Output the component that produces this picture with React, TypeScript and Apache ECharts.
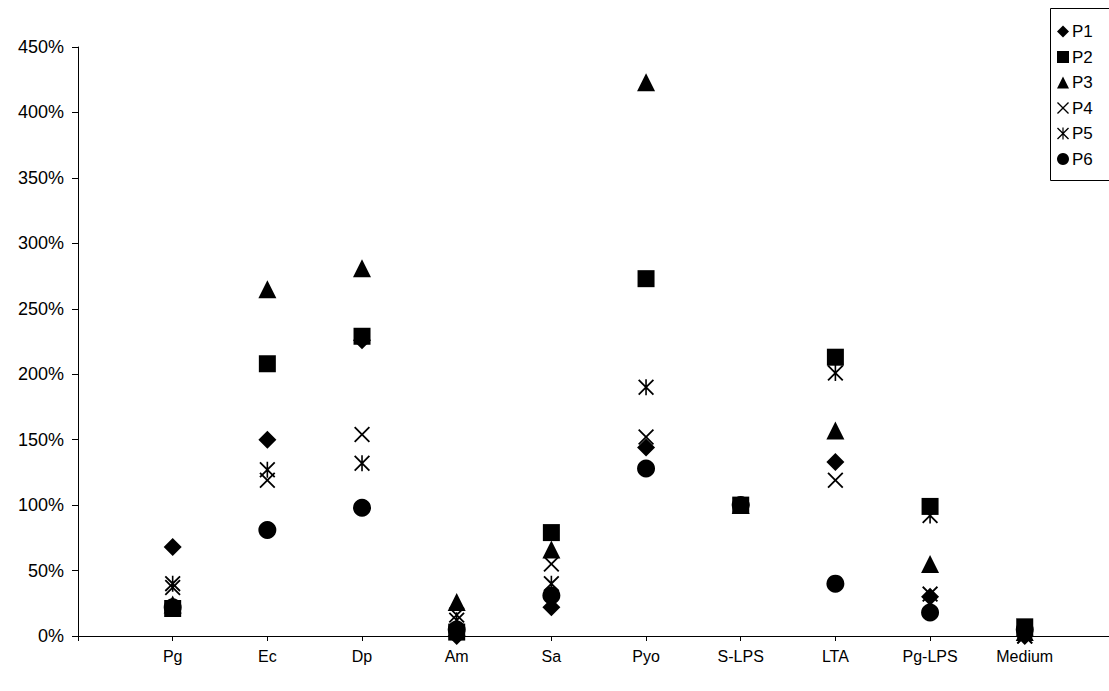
import React, { useEffect, useRef } from 'react';
import * as echarts from 'echarts';

const categories = ['Pg', 'Ec', 'Dp', 'Am', 'Sa', 'Pyo', 'S-LPS', 'LTA', 'Pg-LPS', 'Medium'];
const seriesNames = ['P1', 'P2', 'P3', 'P4', 'P5', 'P6'];
const p1 = [68, 150, 226, 0, 22, 144, 100, 133, 30, 0];
const p2 = [21, 208, 229, 3, 79, 273, 100, 213, 99, 7];
const p3 = [24, 265, 281, 26, 66, 423, 100, 157, 55, 3];
const p4 = [37, 119, 154, 16, 55, 152, 100, 119, 32, 0];
const p5 = [40, 127, 132, 12, 40, 190, 100, 201, 92, 0];
const p6 = [22, 81, 98, 5, 31, 128, 100, 40, 18, 5];
const seriesValues = [p1, p2, p3, p4, p5, p6];

const X_PATH = 'path://M0,8L8,0L50,42L92,0L100,8L58,50L100,92L92,100L50,58L8,100L0,92L42,50Z';
const STAR_PATH = X_PATH + 'M45,0L55,0L55,100L45,100Z';
const symbols = ['diamond', 'rect', 'triangle', X_PATH, STAR_PATH, 'circle'];
const symbolSizes = [18, 17, 18, 16, 16, 18];

const FONT = 'Liberation Sans, Arial, sans-serif';

export default function App() {
  const ref = useRef<HTMLDivElement>(null);
  useEffect(() => {
    if (!ref.current) return;
    const chart = echarts.init(ref.current, undefined, { renderer: 'svg' });
    chart.setOption({
      animation: false,
      backgroundColor: '#ffffff',
      textStyle: { fontFamily: FONT, color: '#000' },
      grid: { left: 78, top: 47, bottom: 55, right: 0, containLabel: false },
      legend: {
        orient: 'vertical',
        left: 1057,
        top: 23,
        padding: 0,
        itemWidth: 12,
        itemHeight: 12,
        itemGap: 8.5,
        textStyle: { fontFamily: FONT, fontSize: 17, color: '#000', padding: [0, 0, 0, -2] },
        data: seriesNames.map((n, i) => ({ name: n, icon: symbols[i] })),
      },
      graphic: [
        {
          type: 'rect',
          shape: { x: 1050.5, y: 8.5, width: 80, height: 172 },
          style: { fill: 'none', stroke: '#000', lineWidth: 1 },
          z: -1,
        },
      ],
      xAxis: {
        type: 'value',
        min: 0,
        max: 10.89,
        interval: 1,
        splitLine: { show: false },
        axisLine: { show: true, lineStyle: { color: '#000', width: 1 } },
        axisTick: { show: true, length: 5, lineStyle: { color: '#000' } },
        axisLabel: {
          fontFamily: FONT,
          fontSize: 16,
          color: '#000',
          margin: 12,
          showMaxLabel: false,
          formatter: (v: number) => categories[Math.round(v) - 1] || '',
        },
      },
      yAxis: {
        type: 'value',
        min: 0,
        max: 450,
        interval: 50,
        splitLine: { show: false },
        axisLine: { show: true, lineStyle: { color: '#000', width: 1 } },
        axisTick: { show: true, length: 6, lineStyle: { color: '#000' } },
        axisLabel: {
          fontFamily: FONT,
          fontSize: 18,
          color: '#000',
          margin: 14,
          formatter: (v: number) => `${v}%`,
        },
      },
      series: seriesNames.map((name, i) => ({
        name,
        type: 'scatter',
        symbol: symbols[i],
        symbolSize: symbolSizes[i],
        itemStyle: { color: '#000', opacity: 1 },
        emphasis: { disabled: true },
        data: seriesValues[i].map((v, j) => [j + 1, v]),
      })),
    });
    return () => chart.dispose();
  }, []);
  return (
    <div
      ref={ref}
      style={{ position: 'fixed', left: 0, top: 0, width: 1109, height: 691 }}
    />
  );
}
